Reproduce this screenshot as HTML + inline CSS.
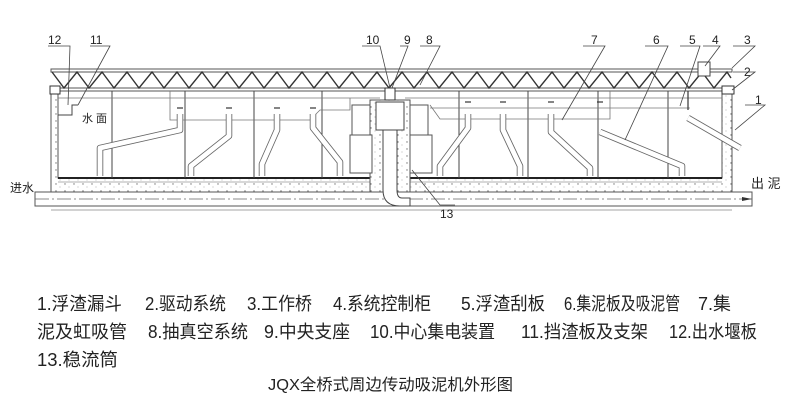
<!DOCTYPE html>
<html><head><meta charset="utf-8"><style>
html,body{margin:0;padding:0;background:#fff;}
svg{display:block;}
text{font-family:"Liberation Sans","Noto Sans CJK SC",sans-serif;fill:#222;}
</style></head><body>
<svg width="800" height="408" viewBox="0 0 800 408" xmlns="http://www.w3.org/2000/svg">
<defs>
<pattern id="dots" width="9" height="7" patternUnits="userSpaceOnUse">
<rect width="9" height="7" fill="#fff"/><circle cx="2" cy="2" r="0.7" fill="#777"/><circle cx="6" cy="5" r="0.5" fill="#999"/>
</pattern>
</defs>
<!-- truss -->
<rect x="51" y="69" width="681" height="3" fill="#fff" stroke="#555" stroke-width="1"/>
<rect x="51" y="88" width="681" height="3" fill="#fff" stroke="#555" stroke-width="1"/>
<polyline fill="none" stroke="#333" stroke-width="1.4" points="52,72 64,88 77,72 89,88 102,72 114,88 127,72 139,88 152,72 164,88 177,72 189,88 202,72 214,88 227,72 239,88 252,72 264,88 277,72 289,88 302,72 314,88 327,72 339,88 352,72 364,88 377,72 389,88 402,72 414,88 427,72 439,88 452,72 464,88 477,72 489,88 502,72 514,88 527,72 539,88 552,72 564,88 577,72 589,88 602,72 614,88 627,72 639,88 652,72 664,88 677,72 689,88 702,72 714,88 727,72 731,78"/>
<!-- tank walls & floor concrete -->
<path d="M51,92 L58,92 L58,178 L722,178 L722,92 L732,92 L732,193 L51,193 Z" fill="url(#dots)" stroke="#555" stroke-width="1"/>
<line x1="58" y1="178" x2="722" y2="178" stroke="#222" stroke-width="2"/>
<line x1="58" y1="182" x2="722" y2="182" stroke="#999" stroke-width="0.8"/>
<!-- pipe -->
<rect x="35" y="192" width="717" height="14" fill="#fff" stroke="#555" stroke-width="1"/>
<line x1="35" y1="199" x2="752" y2="199" stroke="#666" stroke-width="0.8" stroke-dasharray="14,3,2,3"/>
<line x1="51" y1="210" x2="732" y2="210" stroke="#888" stroke-width="0.8"/>
<path d="M752,199 l-10,-2 v4 z" fill="#333"/>
<!-- dividers -->
<g stroke="#444" stroke-width="1">
<line x1="112" y1="91" x2="112" y2="178"/><line x1="185" y1="91" x2="185" y2="178"/>
<line x1="254" y1="91" x2="254" y2="178"/><line x1="322" y1="91" x2="322" y2="178"/>
<line x1="459" y1="91" x2="459" y2="178"/><line x1="528" y1="91" x2="528" y2="178"/>
<line x1="598" y1="91" x2="598" y2="178"/><line x1="668" y1="91" x2="668" y2="178"/>
</g>
<!-- vacuum lines -->
<g fill="none" stroke="#777" stroke-width="0.8">
<polyline points="170,91 170,120 310,120 320,110 350,110 350,98"/>
<line x1="58" y1="98" x2="380" y2="98"/>
<line x1="405" y1="98" x2="722" y2="98"/>
<polyline points="430,105 440,119 610,119 610,91"/>
<line x1="430" y1="108" x2="690" y2="108"/>
</g>
<!-- central column -->
<rect x="370" y="100" width="40" height="92" fill="url(#dots)" stroke="#555"/>
<rect x="376" y="102" width="28" height="28" fill="#fff" stroke="#444"/>
<rect x="352" y="105" width="18" height="30" fill="#fff" stroke="#555"/>
<rect x="410" y="105" width="18" height="30" fill="#fff" stroke="#555"/>
<rect x="350" y="135" width="22" height="38" fill="#fff" stroke="#555"/>
<rect x="410" y="135" width="22" height="38" fill="#fff" stroke="#555"/>
<path d="M383,130 V190 Q383,206 400,206 H410 V198 H402 Q397,198 397,190 V130 Z" fill="#fff" stroke="#444"/>
<!-- suction pipes -->
<g fill="none" stroke-linejoin="round">
<g stroke="#666" stroke-width="6.5">
<polyline points="180,114 180,130 100,148 100,176"/>
<polyline points="229,114 229,136 191,166 191,176"/>
<polyline points="277,114 277,130 262,164 262,176"/>
<polyline points="313,114 313,128 340,162 340,176"/>
<polyline points="468,114 468,128 440,166 440,176"/>
<polyline points="503,114 503,130 520,166 520,176"/>
<polyline points="551,114 551,132 590,168 590,176"/>
<polyline points="600,132 682,166 682,176"/>
<polyline points="688,118 740,148"/>
</g>
<g stroke="#fff" stroke-width="4.8">
<polyline points="180,114 180,130 100,148 100,176"/>
<polyline points="229,114 229,136 191,166 191,176"/>
<polyline points="277,114 277,130 262,164 262,176"/>
<polyline points="313,114 313,128 340,162 340,176"/>
<polyline points="468,114 468,128 440,166 440,176"/>
<polyline points="503,114 503,130 520,166 520,176"/>
<polyline points="551,114 551,132 590,168 590,176"/>
<polyline points="600,132 682,166 682,176"/>
<polyline points="688,118 740,148"/>
</g>
</g>
<g stroke="#333" stroke-width="1.2">
<line x1="177" y1="108" x2="183" y2="108"/><line x1="226" y1="108" x2="232" y2="108"/>
<line x1="274" y1="108" x2="280" y2="108"/><line x1="310" y1="108" x2="316" y2="108"/>
<line x1="465" y1="102" x2="471" y2="102"/><line x1="500" y1="102" x2="506" y2="102"/>
<line x1="548" y1="102" x2="554" y2="102"/><line x1="597" y1="102" x2="603" y2="102"/>
<line x1="688" y1="91" x2="688" y2="110"/>
</g>
<!-- weir and misc -->
<polyline points="58,115 72,115 72,105 78,105" fill="none" stroke="#444"/>
<text x="82" y="122" font-size="11" font-family="Liberation Serif,'Noto Serif CJK SC',serif">水 面</text>
<rect x="50" y="86" width="10" height="8" fill="#fff" stroke="#333"/>
<rect x="722" y="86" width="12" height="8" fill="#fff" stroke="#333"/>
<rect x="698" y="62" width="12" height="14" fill="#fff" stroke="#444"/>
<rect x="385" y="88" width="10" height="12" fill="#fff" stroke="#333"/>
<!-- leaders -->
<g stroke="#444" stroke-width="0.8" fill="none">
<polyline points="48,46 70,46 68,105"/>
<polyline points="90,46 110,46 78,105"/>
<polyline points="362,46 380,46 390,88"/>
<polyline points="400,46 408,46 392,88"/>
<polyline points="420,46 440,46 420,85"/>
<polyline points="583,46 605,46 562,120"/>
<polyline points="645,46 668,46 625,140"/>
<polyline points="680,46 700,46 680,106"/>
<polyline points="703,46 720,46 705,66"/>
<polyline points="733,46 755,46 732,68"/>
<polyline points="733,72 755,72 732,90"/>
<polyline points="745,105 765,105 735,130"/>
<polyline points="412,170 440,205 455,205"/>
</g>
<g font-size="12">
<text x="48" y="44">12</text><text x="90" y="44">11</text>
<text x="366" y="44">10</text><text x="404" y="44">9</text><text x="426" y="44">8</text>
<text x="591" y="44">7</text><text x="653" y="44">6</text><text x="689" y="44">5</text>
<text x="712" y="44">4</text><text x="744" y="44">3</text><text x="744" y="76">2</text>
<text x="755" y="104">1</text><text x="440" y="218">13</text>
</g>
<text x="10" y="192" font-size="12">进水</text>
<text x="751" y="188" font-size="13">出 泥</text>
<!-- legend -->
<g font-size="18">
<text x="37" y="310" textLength="85" lengthAdjust="spacingAndGlyphs">1.浮渣漏斗</text>
<text x="145" y="310" textLength="81" lengthAdjust="spacingAndGlyphs">2.驱动系统</text>
<text x="247" y="310" textLength="65" lengthAdjust="spacingAndGlyphs">3.工作桥</text>
<text x="333" y="310" textLength="98" lengthAdjust="spacingAndGlyphs">4.系统控制柜</text>
<text x="461" y="310" textLength="84" lengthAdjust="spacingAndGlyphs">5.浮渣刮板</text>
<text x="564" y="310" textLength="116" lengthAdjust="spacingAndGlyphs">6.集泥板及吸泥管</text>
<text x="698" y="310">7.集</text>
<text x="37" y="338" textLength="90" lengthAdjust="spacingAndGlyphs">泥及虹吸管</text>
<text x="148" y="338" textLength="100" lengthAdjust="spacingAndGlyphs">8.抽真空系统</text>
<text x="264" y="338" textLength="86" lengthAdjust="spacingAndGlyphs">9.中央支座</text>
<text x="370" y="338" textLength="125" lengthAdjust="spacingAndGlyphs">10.中心集电装置</text>
<text x="521" y="338" textLength="127" lengthAdjust="spacingAndGlyphs">11.挡渣板及支架</text>
<text x="669" y="338" textLength="88" lengthAdjust="spacingAndGlyphs">12.出水堰板</text>
<text x="37" y="366" textLength="81" lengthAdjust="spacingAndGlyphs">13.稳流筒</text>
<text x="268" y="390" font-size="16" textLength="245" lengthAdjust="spacingAndGlyphs">JQX全桥式周边传动吸泥机外形图</text>
</g>
</svg>
</body></html>
